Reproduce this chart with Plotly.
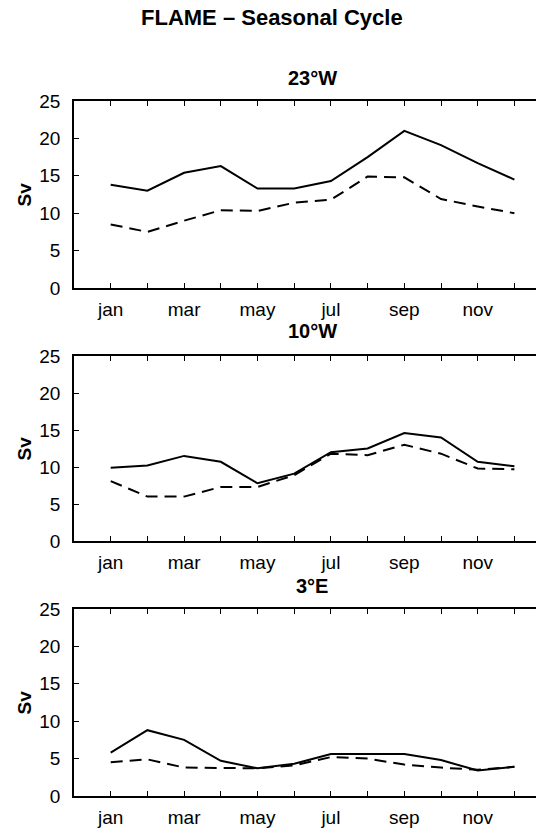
import plotly.graph_objects as go

months = list(range(1, 13))
month_labels = ["jan", "", "mar", "", "may", "", "jul", "", "sep", "", "nov", ""]
panel_titles = ["23°W", "10°W", "3°E"]

w23_solid = [13.8, 13.0, 15.4, 16.3, 13.3, 13.3, 14.3, 17.5, 21.0, 19.1, 16.7, 14.5]
w23_dash = [8.5, 7.5, 9.0, 10.4, 10.3, 11.4, 11.8, 14.9, 14.8, 11.9, 10.9, 10.0]
w10_solid = [9.9, 10.2, 11.5, 10.7, 7.8, 9.1, 12.0, 12.5, 14.6, 14.0, 10.7, 10.1]
w10_dash = [8.1, 6.0, 6.0, 7.3, 7.3, 8.9, 11.8, 11.6, 13.0, 11.8, 9.8, 9.7]
e3_solid = [5.8, 8.8, 7.5, 4.7, 3.7, 4.3, 5.6, 5.6, 5.6, 4.8, 3.4, 3.9]
e3_dash = [4.5, 4.9, 3.8, 3.7, 3.7, 4.1, 5.2, 5.0, 4.2, 3.8, 3.5, 3.9]

series = [(w23_solid, w23_dash), (w10_solid, w10_dash), (e3_solid, e3_dash)]

# page offset (browser body margin)
OFF = 8
PAGE_W, PAGE_H = 544, 829
W, H = PAGE_W - OFF, PAGE_H - OFF
ML = 74 - OFF
MT = 101 - OFF
MB = H - (796 - OFF)
MR = 0
PH = H - MT - MB
PW = W - ML - MR
MONTH_PX = 36.7

def py(page_y):
    return (H - MB - (page_y - OFF)) / PH

def px(page_x):
    return ((page_x - OFF) - ML) / PW

axes_px = [(101, 288), (356, 541), (609, 796)]
title_y = [78, 331, 586]

FONT = "Liberation Sans, Arial, sans-serif"
TICK = 19

fig = go.Figure()
layout = dict(
    width=W, height=H,
    margin=dict(l=ML, r=MR, t=MT, b=MB),
    paper_bgcolor="white", plot_bgcolor="white",
    showlegend=False,
    font=dict(family=FONT, color="black", size=TICK),
)
annotations = []
for i, (sol, das) in enumerate(series):
    n = "" if i == 0 else str(i + 1)
    fig.add_trace(go.Scatter(x=months, y=sol, mode="lines",
                             line=dict(color="black", width=2),
                             xaxis="x" + n, yaxis="y" + n, hoverinfo="skip"))
    fig.add_trace(go.Scatter(x=months, y=das, mode="lines",
                             line=dict(color="black", width=2, dash="12px,7px"),
                             xaxis="x" + n, yaxis="y" + n, hoverinfo="skip"))
    top, bot = axes_px[i]
    layout["xaxis" + n] = dict(
        domain=[0, 1], anchor="y" + n,
        range=[0, PW / MONTH_PX],
        tickvals=months, ticktext=month_labels,
        ticks="inside", ticklen=5, tickcolor="black", tickwidth=1,
        showline=True, linecolor="black", linewidth=1.5, mirror="ticks",
        showgrid=False, zeroline=False,
        tickfont=dict(size=TICK, family=FONT, color="black"),
        ticklabelstandoff=3,
    )
    layout["yaxis" + n] = dict(
        domain=[py(bot), py(top)], anchor="x" + n,
        range=[0, 25], tickvals=[0, 5, 10, 15, 20, 25],
        ticks="inside", ticklen=5, tickcolor="black", tickwidth=1,
        showline=True, linecolor="black", linewidth=1.5, mirror=False,
        showgrid=False, zeroline=False,
        tickfont=dict(size=TICK, family=FONT, color="black"),
        ticklabelstandoff=8,
    )
    annotations.append(dict(
        text="<b>" + panel_titles[i] + "</b>", xref="paper", yref="paper",
        x=px(312), y=py(title_y[i]), xanchor="center", yanchor="middle",
        showarrow=False, font=dict(size=20, family=FONT, color="black")))
    annotations.append(dict(
        text="<b>Sv</b>", xref="paper", yref="paper",
        x=px(24), y=py((top + bot) / 2), xanchor="center", yanchor="middle",
        textangle=-90, showarrow=False,
        font=dict(size=19, family=FONT, color="black")))

annotations.append(dict(
    text="<b>FLAME – Seasonal Cycle</b>", xref="paper", yref="paper",
    x=px(272), y=py(17), xanchor="center", yanchor="middle",
    showarrow=False, font=dict(size=22, family=FONT, color="black")))

layout["annotations"] = annotations
fig.update_layout(**layout)
fig.write_html("out.html")
